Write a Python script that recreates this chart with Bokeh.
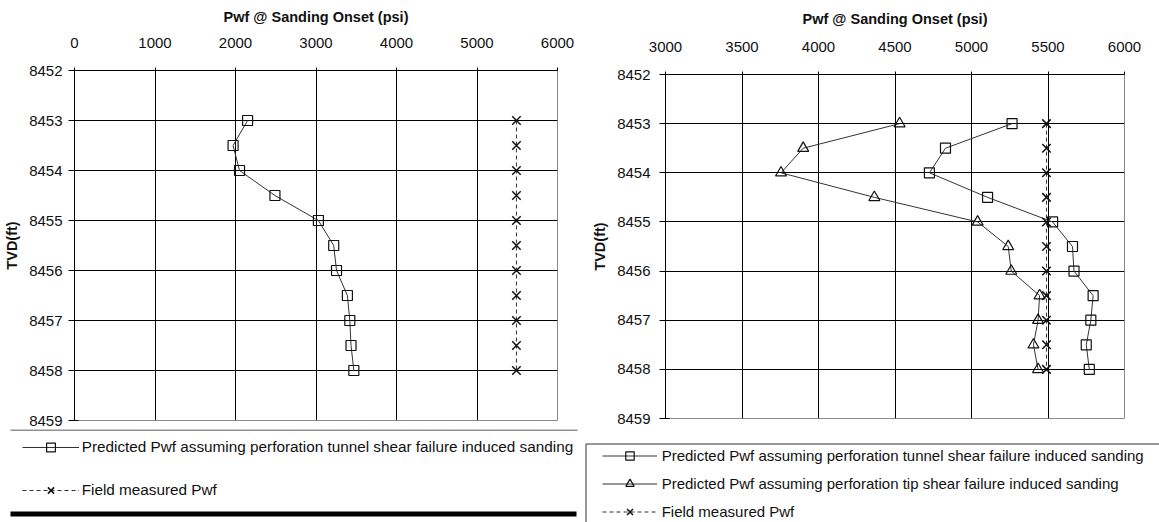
from bokeh.plotting import figure
from bokeh.models import Range1d, FixedTicker, Legend, LegendItem, BoxAnnotation
from bokeh.layouts import row, column
from bokeh.embed import file_html
from bokeh.resources import INLINE

FONT = "Liberation Sans"
TEXT = "#111111"

# depth stations (ft TVD)
tvd = [8453.0, 8453.5, 8454.0, 8454.5, 8455.0, 8455.5, 8456.0, 8456.5, 8457.0, 8457.5, 8458.0]

# left panel: perforation tunnel shear failure model
left_tunnel_pwf = [2150, 1970, 2050, 2490, 3030, 3220, 3255, 3390, 3420, 3435, 3470]
left_field_pwf = [5490, 5490, 5490, 5490, 5490, 5490, 5490, 5490, 5490, 5490, 5490]

# right panel: tunnel and tip shear failure models
right_tunnel_pwf = [5265, 4830, 4725, 5105, 5530, 5660, 5670, 5795, 5780, 5750, 5770]
right_tip_pwf = [4530, 3900, 3755, 4365, 5040, 5240, 5260, 5445, 5435, 5405, 5435]
right_field_pwf = [5490, 5490, 5490, 5490, 5490, 5490, 5490, 5490, 5490, 5490, 5490]

tvd_ticks = [8452, 8453, 8454, 8455, 8456, 8457, 8458, 8459]
left_x_ticks = [0, 1000, 2000, 3000, 4000, 5000, 6000]
right_x_ticks = [3000, 3500, 4000, 4500, 5000, 5500, 6000]

x_title = "Pwf @ Sanding Onset (psi)"
y_title = "TVD(ft)"
label_tunnel = "Predicted Pwf assuming perforation tunnel shear failure induced sanding"
label_tip = "Predicted Pwf assuming perforation tip shear failure induced sanding"
label_field = "Field measured Pwf"

LINE = "#333333"
MARK = "#111111"

STYLES = {
    "tunnel": dict(marker="square", size=10, dash="solid", width=1.2),
    "tip": dict(marker="triangle", size=11, dash="solid", width=1.2),
    "field": dict(marker="x", size=12, dash="4 3", width=1.5),
}


def make_chart(x_ticks, width, height, border_left, frame_w, border_top, frame_h,
               x_tick_standoff, x_title_standoff, y_tick_standoff):
    p = figure(width=width, height=height, frame_width=frame_w, frame_height=frame_h,
               min_border_left=border_left, min_border_right=width - border_left - frame_w,
               min_border_top=border_top, min_border_bottom=height - border_top - frame_h,
               x_range=Range1d(x_ticks[0], x_ticks[-1]),
               y_range=Range1d(tvd_ticks[-1], tvd_ticks[0]),
               x_axis_location="above", toolbar_location=None,
               output_backend="svg", outline_line_color="#8a8a8a",
               background_fill_color="white", border_fill_color="white")
    p.xaxis.ticker = FixedTicker(ticks=x_ticks)
    p.yaxis.ticker = FixedTicker(ticks=tvd_ticks)
    p.xgrid.ticker = FixedTicker(ticks=x_ticks)
    p.ygrid.ticker = FixedTicker(ticks=tvd_ticks)
    p.grid.grid_line_color = "black"
    p.grid.grid_line_width = 1

    for ax in (p.xaxis[0], p.yaxis[0]):
        ax.axis_line_color = "black"
        ax.major_tick_line_color = "black"
        ax.minor_tick_line_color = None
        ax.major_label_text_font = FONT
        ax.major_label_text_font_size = "15px"
        ax.major_label_text_color = TEXT
        ax.axis_label_text_font = FONT
        ax.axis_label_text_font_size = "14.5px"
        ax.axis_label_text_font_style = "bold"
        ax.axis_label_text_color = TEXT

    xa = p.xaxis[0]
    xa.axis_label = x_title
    xa.major_tick_out = 3
    xa.major_tick_in = 0
    xa.major_label_standoff = x_tick_standoff
    xa.axis_label_standoff = x_title_standoff

    ya = p.yaxis[0]
    ya.axis_label = y_title
    ya.major_tick_out = 6
    ya.major_tick_in = 4
    ya.major_label_standoff = y_tick_standoff
    ya.axis_label_standoff = 6
    return p


def draw_series(p, xs, kind):
    st = STYLES[kind]
    r_line = p.line(xs, tvd, line_color=LINE, line_width=1, line_dash=st["dash"])
    r_mark = p.scatter(xs, tvd, marker=st["marker"], size=st["size"], fill_color=None,
                       line_color=MARK, line_width=st["width"])
    return [r_line, r_mark]


class KeyStrip:
    """Strip under a chart holding its key. Its ranges are page pixels
    (x to the right, y downward), so the series it carries for the key
    swatches lie far outside it."""

    def __init__(self, page_left, page_top, width, height):
        self.left, self.top, self.w, self.h = page_left, page_top, width, height
        self.p = figure(frame_width=width, frame_height=height,
                        min_border_left=0, min_border_right=0,
                        min_border_top=0, min_border_bottom=0,
                        x_range=Range1d(page_left, page_left + width),
                        y_range=Range1d(page_top + height, page_top),
                        x_axis_type=None, y_axis_type=None, toolbar_location=None,
                        output_backend="svg", outline_line_color=None,
                        background_fill_color="white", border_fill_color="white")
        self.items = []

    def entry(self, label, xs, kind):
        self.items.append(LegendItem(label=label, renderers=draw_series(self.p, xs, kind)))

    def rule(self, x0, x1, y0, y1, fill=None, line=None):
        self.p.add_layout(BoxAnnotation(
            left=x0, right=x1, top=y0, bottom=y1,
            fill_color=fill if fill else "white", fill_alpha=1 if fill else 0,
            line_color=line if line else "black", line_width=1,
            line_alpha=1 if line else 0))

    def key(self, x_left, y_top, item_h, spacing, glyph_w, standoff, font_size):
        n = len(self.items)
        y_bottom = y_top + n * item_h + (n - 1) * spacing
        loc = (x_left - self.left, (self.top + self.h) - y_bottom)
        self.p.add_layout(Legend(
            items=self.items, location=loc, orientation="vertical",
            border_line_color=None, background_fill_alpha=0,
            padding=0, margin=0, spacing=spacing,
            glyph_width=glyph_w, glyph_height=item_h, label_height=item_h,
            label_standoff=standoff, label_text_font=FONT,
            label_text_font_size=font_size, label_text_color=TEXT))


# ---- left panel ----
left = make_chart(left_x_ticks, 580, 429, 74, 483, 70, 350,
                  x_tick_standoff=20, x_title_standoff=10, y_tick_standoff=6)
draw_series(left, left_tunnel_pwf, "tunnel")
draw_series(left, left_field_pwf, "field")

left_key = KeyStrip(0, 429, 580, 93)
left_key.entry(label_tunnel, left_tunnel_pwf, "tunnel")
left_key.entry(label_field, left_field_pwf, "field")
left_key.rule(10, 577, 429, 430, fill="#222222")
left_key.rule(10, 576, 511, 516, fill="black")
left_key.key(21.7, 436, 22, 21, 57, 3, "15.3px")

# ---- right panel ----
right = make_chart(right_x_ticks, 579, 426, 85, 459, 74, 344,
                   x_tick_standoff=20, x_title_standoff=12, y_tick_standoff=9)
draw_series(right, right_tunnel_pwf, "tunnel")
draw_series(right, right_tip_pwf, "tip")
draw_series(right, right_field_pwf, "field")

right_key = KeyStrip(580, 426, 579, 96)
right_key.entry(label_tunnel, right_tunnel_pwf, "tunnel")
right_key.entry(label_tip, right_tip_pwf, "tip")
right_key.entry(label_field, right_field_pwf, "field")
right_key.rule(585.5, 1250, 443.5, 600, line="#333333")
right_key.key(601.7, 445, 21, 7, 55, 5, "15px")

# each figure sits in its own column so the strips keep their full-width frames
left_col = column(column(left), column(left_key.p), spacing=0)
right_col = column(column(right), column(right_key.p), spacing=0)
layout = row(left_col, right_col, spacing=0)

open("out.html", "w").write(file_html(layout, INLINE))
